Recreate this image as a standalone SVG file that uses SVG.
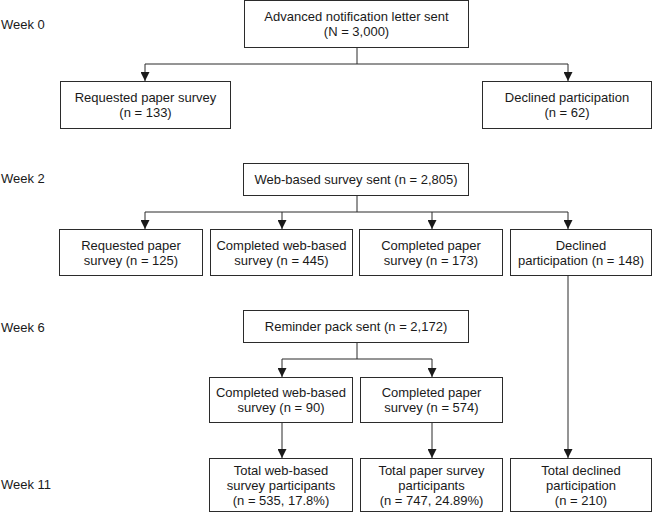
<svg xmlns="http://www.w3.org/2000/svg" width="654" height="513" viewBox="0 0 654 513">
<style>
  .bg { fill: #ffffff; }
  .box { fill: #ffffff; stroke: #2b2b2b; stroke-width: 1; }
  .t { font-family: "Liberation Sans", Arial, sans-serif; font-size: 13px; fill: #1a1a1a; text-anchor: middle; }
  .wk { font-family: "Liberation Sans", Arial, sans-serif; font-size: 13px; fill: #1a1a1a; }
  .ln { fill: none; stroke: #2b2b2b; stroke-width: 1; }
</style>
<defs>
  <marker id="arr" markerUnits="userSpaceOnUse" markerWidth="9" markerHeight="9" refX="9" refY="4.5" orient="auto">
    <path d="M0,0 L9,4.5 L0,9 Z" fill="#1a1a1a"/>
  </marker>
</defs>
<rect class="bg" x="0" y="0" width="654" height="513"/>

<g id="week-labels">
  <text class="wk" x="1" y="29">Week 0</text>
  <text class="wk" x="1" y="183">Week 2</text>
  <text class="wk" x="1" y="332">Week 6</text>
  <text class="wk" x="1" y="489">Week 11</text>
</g>

<g id="connectors">
  <path class="ln" d="M357,48 V64"/>
  <path class="ln" d="M145,64 H568"/>
  <path class="ln" d="M145,64 V81" marker-end="url(#arr)"/>
  <path class="ln" d="M568,64 V81" marker-end="url(#arr)"/>

  <path class="ln" d="M357,196 V212"/>
  <path class="ln" d="M145,212 H568"/>
  <path class="ln" d="M145,212 V229" marker-end="url(#arr)"/>
  <path class="ln" d="M282,212 V229" marker-end="url(#arr)"/>
  <path class="ln" d="M432,212 V229" marker-end="url(#arr)"/>
  <path class="ln" d="M568,212 V229" marker-end="url(#arr)"/>

  <path class="ln" d="M568,276 V458" marker-end="url(#arr)"/>

  <path class="ln" d="M357,343 V359"/>
  <path class="ln" d="M282,359 H432"/>
  <path class="ln" d="M282,359 V377" marker-end="url(#arr)"/>
  <path class="ln" d="M432,359 V377" marker-end="url(#arr)"/>

  <path class="ln" d="M282,423 V458" marker-end="url(#arr)"/>
  <path class="ln" d="M432,423 V458" marker-end="url(#arr)"/>
</g>

<g id="n-letter">
  <rect class="box" x="244.5" y="0.5" width="224" height="47"/>
  <text class="t" x="356.5" y="21">Advanced notification letter sent</text>
  <text class="t" x="356.5" y="36">(N = 3,000)</text>
</g>

<g id="n-req1">
  <rect class="box" x="60.5" y="81.5" width="170" height="47"/>
  <text class="t" x="145.5" y="102">Requested paper survey</text>
  <text class="t" x="145.5" y="117">(n = 133)</text>
</g>

<g id="n-dec1">
  <rect class="box" x="482.5" y="81.5" width="169" height="47"/>
  <text class="t" x="567" y="102">Declined participation</text>
  <text class="t" x="567" y="117">(n = 62)</text>
</g>

<g id="n-web">
  <rect class="box" x="243.5" y="163.5" width="225" height="32"/>
  <text class="t" x="356" y="184">Web-based survey sent (n = 2,805)</text>
</g>

<g id="n-req2">
  <rect class="box" x="59.5" y="229.5" width="143" height="46"/>
  <text class="t" x="131" y="249.5">Requested paper</text>
  <text class="t" x="131" y="264.5">survey (n = 125)</text>
</g>

<g id="n-web2">
  <rect class="box" x="210.5" y="229.5" width="142" height="46"/>
  <text class="t" x="281.5" y="249.5">Completed web-based</text>
  <text class="t" x="281.5" y="264.5">survey (n = 445)</text>
</g>

<g id="n-pap2">
  <rect class="box" x="359.5" y="229.5" width="143" height="46"/>
  <text class="t" x="431" y="249.5">Completed paper</text>
  <text class="t" x="431" y="264.5">survey (n = 173)</text>
</g>

<g id="n-dec2">
  <rect class="box" x="510.5" y="229.5" width="141" height="46"/>
  <text class="t" x="581" y="249.5">Declined</text>
  <text class="t" x="581" y="264.5">participation (n = 148)</text>
</g>

<g id="n-reminder">
  <rect class="box" x="243.5" y="310.5" width="225" height="32"/>
  <text class="t" x="356" y="331">Reminder pack sent (n = 2,172)</text>
</g>

<g id="n-web6">
  <rect class="box" x="209.5" y="377.5" width="143" height="45"/>
  <text class="t" x="281" y="397">Completed web-based</text>
  <text class="t" x="281" y="412">survey (n = 90)</text>
</g>

<g id="n-pap6">
  <rect class="box" x="360.5" y="377.5" width="142" height="45"/>
  <text class="t" x="431.5" y="397">Completed paper</text>
  <text class="t" x="431.5" y="412">survey (n = 574)</text>
</g>

<g id="n-totweb">
  <rect class="box" x="209.5" y="458.5" width="143" height="53"/>
  <text class="t" x="281" y="474.5">Total web-based</text>
  <text class="t" x="281" y="489.5">survey participants</text>
  <text class="t" x="281" y="504.5">(n = 535, 17.8%)</text>
</g>

<g id="n-totpap">
  <rect class="box" x="360.5" y="458.5" width="142" height="53"/>
  <text class="t" x="431.5" y="474.5">Total paper survey</text>
  <text class="t" x="431.5" y="489.5">participants</text>
  <text class="t" x="431.5" y="504.5">(n = 747, 24.89%)</text>
</g>

<g id="n-totdec">
  <rect class="box" x="510.5" y="458.5" width="141" height="53"/>
  <text class="t" x="581" y="474.5">Total declined</text>
  <text class="t" x="581" y="489.5">participation</text>
  <text class="t" x="581" y="504.5">(n = 210)</text>
</g>
</svg>
